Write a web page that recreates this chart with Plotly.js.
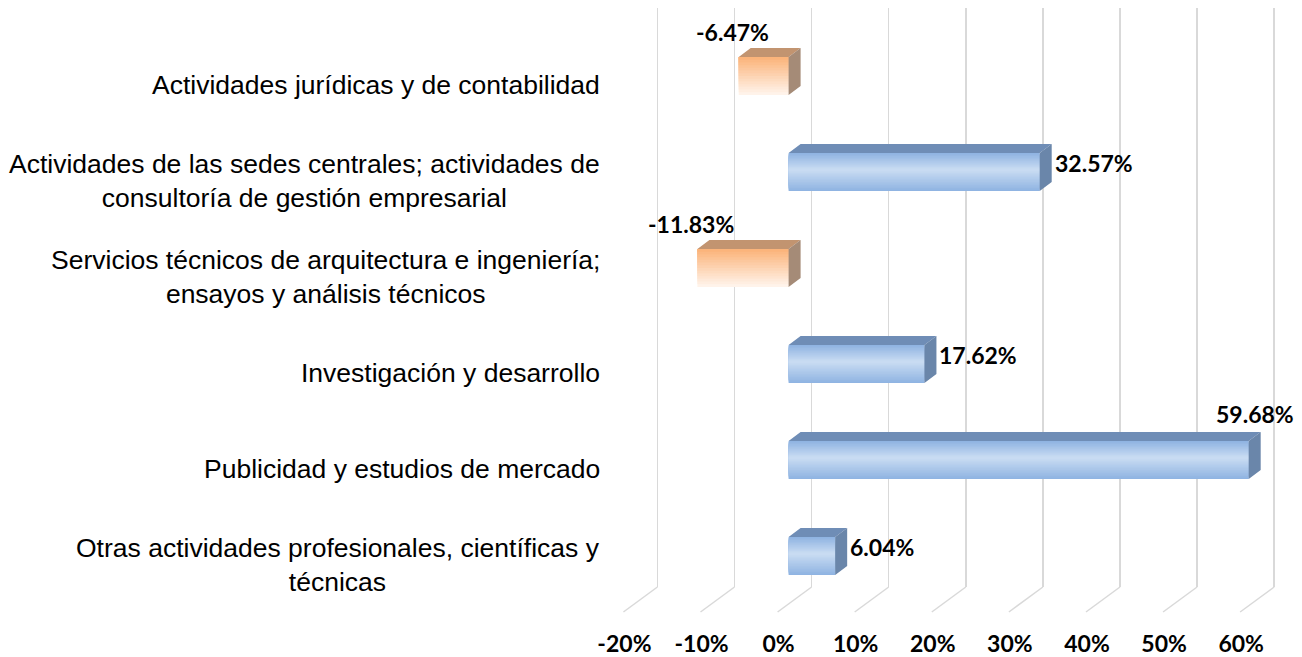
<!DOCTYPE html>
<html>
<head>
<meta charset="utf-8">
<script src="https://cdn.plot.ly/plotly-3.0.1.min.js"></script>
<style>html,body{margin:0;padding:0;background:#fff;}#chart{width:1302px;height:657px;}</style>
</head>
<body>
<div id="chart"></div>
<script>
// ---- data ----
const categories = [
  "Actividades jurídicas y de contabilidad",
  "Actividades de las sedes centrales; actividades de<br>consultoría de gestión empresarial",
  "Servicios técnicos de arquitectura e ingeniería;<br>ensayos y análisis técnicos",
  "Investigación y desarrollo",
  "Publicidad y estudios de mercado",
  "Otras actividades profesionales, científicas y<br>técnicas"
];
const values = [-6.47, 32.57, -11.83, 17.62, 59.68, 6.04];
const valueLabels = ["-6.47%", "32.57%", "-11.83%", "17.62%", "59.68%", "6.04%"];
const xTickVals = [-20, -10, 0, 10, 20, 30, 40, 50, 60];
const xTickText = ["-20%", "-10%", "0%", "10%", "20%", "30%", "40%", "50%", "60%"];

// ---- style / geometry constants ----
const PX = 7.71;            // pixels per unit on x
const W = 0.396;            // bar thickness (y units)
const DX = 12 / PX;         // 3D depth (x units)
const DY = 9 / 96;          // 3D depth (y units)
const XRANGE = [-22, 64];
const BACK = 23 / PX;       // back wall shift
const TOP = 8, BOTTOM = 587, H = 657;
const PLOTH = BOTTOM - TOP;
const pos = categories.map((_, i) => i);

const posVals = values.map(v => v >= 0 ? v : null);
const negVals = values.map(v => v < 0 ? v : null);

function mix(a, b, t) {
  const pa = [1, 3, 5].map(k => parseInt(a.substr(k, 2), 16));
  const pb = [1, 3, 5].map(k => parseInt(b.substr(k, 2), 16));
  return 'rgb(' + pa.map((c, k) => Math.round(c + (pb[k] - c) * t)).join(',') + ')';
}

const traces = [];
const STEPS = 14;
// blue front faces: lighter towards the middle
for (let s = 0; s < STEPS; s++) {
  const f = 1 - s / STEPS;
  traces.push({type: 'bar', orientation: 'h', x: posVals, y: pos, width: W * f, offset: -W * f / 2 - W * 0.06 * (1 - f),
    marker: {color: mix('#90b4e2', '#c8dbf2', s / (STEPS - 1)), line: {width: 0}}, hoverinfo: 'skip', showlegend: false});
}
// orange front faces: darker at the top
for (let s = 0; s < STEPS; s++) {
  const f = 1 - s / STEPS;
  traces.push({type: 'bar', orientation: 'h', x: negVals, y: pos, width: W * f, offset: -W / 2,
    marker: {color: mix('#fff3ea', '#fbb47b', s / (STEPS - 1)), line: {width: 0}}, hoverinfo: 'skip', showlegend: false});
}

function faces(sel) {
  const top = {x: [], y: []}, side = {x: [], y: []};
  values.forEach((v, i) => {
    if (!sel(v)) return;
    const p = pos[i], x0 = Math.min(0, v), x1 = Math.max(0, v);
    const yt = p - W / 2, yb = p + W / 2;
    top.x.push(x0, x1, x1 + DX, x0 + DX, x0, null);
    top.y.push(yt, yt, yt - DY, yt - DY, yt, null);
    side.x.push(x1, x1 + DX, x1 + DX, x1, x1, null);
    side.y.push(yt, yt - DY, yb - DY, yb, yt, null);
  });
  return {top, side};
}
const fb = faces(v => v >= 0), fo = faces(v => v < 0);
[[fb.top, '#6f8db6'], [fb.side, '#6a86aa'], [fo.top, '#c29470'], [fo.side, '#a58b77']].forEach(([d, c]) => {
  traces.push({type: 'scatter', mode: 'lines', x: d.x, y: d.y, fill: 'toself', fillcolor: c,
    line: {width: 0, color: c}, hoverinfo: 'skip', showlegend: false});
});
// dummy trace for back-wall grid axis
traces.push({type: 'scatter', mode: 'markers', x: [], y: [], xaxis: 'x2', yaxis: 'y', showlegend: false, hoverinfo: 'skip'});

const annotations = [];
categories.forEach((c, i) => {
  annotations.push({text: c, xref: 'paper', x: 0, xanchor: 'right', xshift: -17, align: 'center',
    yref: 'y', y: pos[i], yanchor: 'middle', yshift: -9, showarrow: false,
    font: {family: 'Liberation Sans, Arial, sans-serif', size: 26.5, color: '#000'}});
});
const labFont = {family: 'Lato, Open Sans, sans-serif', size: 23, color: '#000', weight: 'bold'};
values.forEach((v, i) => {
  const p = pos[i];
  if (v < 0) {
    annotations.push({text: valueLabels[i], x: v, xanchor: 'center', xshift: -6, y: p - W / 2 - DY,
      yanchor: 'bottom', yshift: 0, showarrow: false, font: labFont});
  } else if (v + DX + 10 > XRANGE[1]) {
    annotations.push({text: valueLabels[i], x: v + DX / 2, xanchor: 'center', y: p - W / 2 - DY,
      yanchor: 'bottom', yshift: 2, showarrow: false, font: labFont});
  } else {
    annotations.push({text: valueLabels[i], x: v + DX, xanchor: 'left', xshift: 1, y: p,
      yanchor: 'middle', yshift: 9, showarrow: false, font: labFont});
  }
});

// floor lines of the back wall
const shapes = xTickVals.map(t => ({type: 'line', xref: 'x2', yref: 'paper',
  x0: t, y0: 0, x1: t - 34 / PX, y1: -25 / PLOTH, line: {color: '#d9d9d9', width: 1.5}, layer: 'below'}));

const layout = {
  width: 1302, height: H,
  margin: {l: 619, r: 1302 - 619 - Math.round((XRANGE[1] - XRANGE[0]) * PX), t: TOP, b: H - BOTTOM},
  paper_bgcolor: '#fff', plot_bgcolor: 'rgba(0,0,0,0)',
  barmode: 'overlay', hovermode: false, showlegend: false,
  xaxis: {range: XRANGE, tickvals: xTickVals, ticktext: xTickText, showgrid: false, zeroline: false,
    showline: false, ticks: '', ticklabelstandoff: 41, ticklabelshift: -10,
    tickfont: {family: 'Lato, Open Sans, sans-serif', size: 23, color: '#000', weight: 'bold'}, fixedrange: true},
  xaxis2: {overlaying: 'x', range: [XRANGE[0] - BACK, XRANGE[1] - BACK], tickvals: xTickVals,
    showticklabels: false, showgrid: true, gridcolor: '#d9d9d9', gridwidth: 1.5, zeroline: false,
    showline: false, ticks: '', fixedrange: true, layer: 'below traces'},
  yaxis: {range: [5 + (BOTTOM - 556) / 96, -(76 - TOP) / 96], showticklabels: false, showgrid: false, zeroline: false,
    showline: false, ticks: '', fixedrange: true},
  annotations, shapes
};

Plotly.newPlot('chart', traces, layout, {displayModeBar: false, staticPlot: true});
</script>
</body>
</html>
